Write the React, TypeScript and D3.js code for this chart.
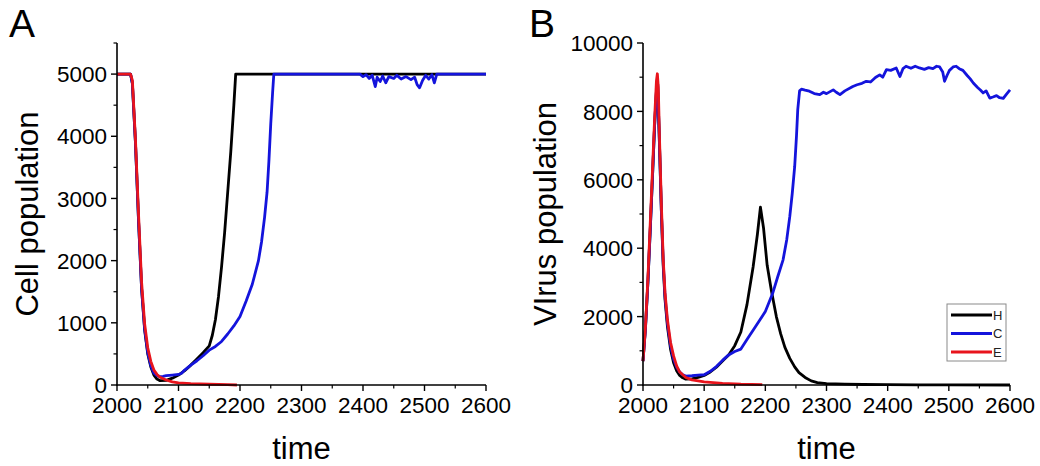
import React from "react";
import * as d3 from "d3";

// ---------- data ----------
type P = [number, number];

// Panel A: Cell population
const cellH: P[] = [
  [2000, 5000], [2022, 5000], [2025, 4850], [2030, 3900], [2035, 2650], [2040, 1550], [2045, 880],
  [2050, 500], [2055, 290], [2060, 160], [2065, 95], [2070, 70], [2080, 75], [2090, 110],
  [2100, 160], [2110, 230], [2120, 320], [2130, 420], [2140, 520], [2150, 630], [2155, 800],
  [2160, 1050], [2165, 1420], [2170, 1900], [2175, 2450], [2180, 3100], [2185, 3750],
  [2190, 4500], [2193, 5000], [2600, 5000],
];
const cellC: P[] = [
  [2000, 5000], [2022, 5000], [2025, 4850], [2030, 3900], [2035, 2650], [2040, 1550], [2045, 900],
  [2050, 520], [2055, 310], [2060, 190], [2065, 150], [2070, 135], [2075, 140], [2080, 150],
  [2090, 160], [2100, 170], [2105, 190], [2110, 240], [2120, 320], [2130, 390], [2140, 470],
  [2150, 560], [2160, 620], [2170, 700], [2180, 820], [2190, 950], [2200, 1100], [2210, 1350],
  [2220, 1620], [2230, 2000], [2235, 2300], [2240, 2700], [2244, 3100], [2247, 3600],
  [2250, 4200], [2253, 4700], [2255, 5000], [2395, 5000], [2400, 4960], [2405, 4990],
  [2410, 4930], [2415, 4980], [2420, 4800], [2423, 4950], [2428, 4880], [2432, 4970],
  [2437, 4860], [2442, 4960], [2450, 4930], [2455, 4980], [2462, 4920], [2470, 4960],
  [2478, 4910], [2484, 4950], [2488, 4830], [2492, 4780], [2497, 4900], [2502, 4980],
  [2507, 4920], [2512, 4990], [2516, 4860], [2520, 5000], [2600, 5000],
];
const cellE: P[] = [
  [2000, 5000], [2022, 5000], [2025, 4900], [2030, 3950], [2035, 2750], [2040, 1650],
  [2045, 980], [2050, 600], [2055, 380], [2060, 240], [2065, 170], [2070, 125], [2080, 80],
  [2090, 50], [2100, 35], [2120, 22], [2150, 12], [2180, 5], [2195, 0],
];

// Panel B: Virus population
const virusH: P[] = [
  [2000, 700], [2004, 1650], [2008, 3000], [2012, 4600], [2016, 6300], [2019, 7600],
  [2022, 8600], [2024, 8800], [2027, 7000], [2030, 5100], [2033, 3500], [2036, 2500],
  [2040, 1700], [2045, 1050], [2050, 650], [2055, 420], [2060, 280], [2065, 210], [2070, 170],
  [2080, 180], [2090, 220], [2100, 280], [2110, 380], [2120, 520], [2130, 700], [2140, 880],
  [2150, 1150], [2160, 1550], [2170, 2350], [2180, 3450], [2187, 4400], [2192, 5200],
  [2197, 4600], [2203, 3500], [2210, 2750], [2218, 2000], [2225, 1500], [2232, 1100],
  [2240, 780], [2248, 530], [2255, 360], [2265, 220], [2275, 120], [2285, 70], [2300, 40],
  [2330, 25], [2360, 15], [2400, 10], [2450, 5], [2500, 3], [2600, 0],
];
const virusC: P[] = [
  [2000, 700], [2004, 1650], [2008, 3000], [2012, 4600], [2016, 6300], [2019, 7600],
  [2022, 8600], [2024, 8800], [2027, 7000], [2030, 5100], [2033, 3600], [2036, 2600],
  [2040, 1800], [2045, 1150], [2050, 750], [2055, 520], [2060, 380], [2065, 300], [2070, 260],
  [2080, 270], [2090, 290], [2100, 300], [2110, 400], [2120, 540], [2130, 720], [2140, 880],
  [2150, 980], [2160, 1050], [2170, 1330], [2180, 1600], [2191, 1900], [2200, 2150],
  [2212, 2680], [2220, 3150], [2229, 3660], [2235, 4250], [2240, 4930], [2244, 5600],
  [2248, 6390], [2251, 7300], [2253, 8050], [2256, 8600], [2259, 8650], [2265, 8620],
  [2272, 8590], [2280, 8520], [2289, 8490], [2295, 8560], [2300, 8520], [2311, 8630],
  [2316, 8560], [2322, 8490], [2330, 8600], [2343, 8730], [2350, 8780], [2358, 8820],
  [2365, 8880], [2372, 8860], [2380, 8990], [2387, 9070], [2392, 9000], [2398, 9220],
  [2405, 9200], [2414, 9270], [2420, 9020], [2425, 9250], [2430, 9320], [2438, 9260],
  [2445, 9320], [2452, 9270], [2460, 9230], [2467, 9280], [2474, 9250], [2480, 9320],
  [2485, 9300], [2490, 9150], [2493, 8880], [2497, 9050], [2501, 9200], [2507, 9300],
  [2512, 9320], [2517, 9250], [2523, 9200], [2530, 9050], [2535, 8950], [2540, 8830],
  [2547, 8700], [2552, 8620], [2556, 8540], [2561, 8600], [2567, 8390], [2572, 8420],
  [2578, 8460], [2583, 8400], [2589, 8380], [2594, 8500], [2600, 8630],
];
const virusE: P[] = [
  [2000, 700], [2004, 1700], [2008, 3100], [2012, 4800], [2016, 6500], [2019, 7800],
  [2022, 8900], [2023.5, 9100], [2025, 8700], [2027, 7200], [2030, 5300], [2033, 3700],
  [2036, 2700], [2040, 1900], [2045, 1250], [2050, 850], [2055, 560], [2060, 380],
  [2070, 220], [2080, 150], [2100, 90], [2130, 50], [2160, 25], [2195, 10],
];

const xTicks = [2000, 2100, 2200, 2300, 2400, 2500, 2600];
const xMinor = [2050, 2150, 2250, 2350, 2450, 2550];
const yTicksA = [0, 1000, 2000, 3000, 4000, 5000];
const yMinorA = [500, 1500, 2500, 3500, 4500, 5500];
const yTicksB = [0, 2000, 4000, 6000, 8000, 10000];
const yMinorB = [1000, 3000, 5000, 7000, 9000];
const legendLabels = ["H", "C", "E"];

const COLORS = { H: "#000000", C: "#1414dc", E: "#e8141c" };
const FONT = "Liberation Sans, Arial, sans-serif";

type PanelProps = {
  left: number; right: number; top: number; bottom: number;
  yMax: number; yTicks: number[]; yMinor: number[];
  series: { data: P[]; color: string }[];
  letter: string; letterX: number; ylabel: string; ylabelX: number;
};

function Panel(p: PanelProps) {
  const x = d3.scaleLinear().domain([2000, 2600]).range([p.left, p.right]);
  const y = d3.scaleLinear().domain([0, p.yMax]).range([p.bottom, p.top]);
  const line = d3.line<P>().x((d) => x(d[0])).y((d) => y(d[1]));
  const cy = (p.top + p.bottom) / 2;
  return (
    <g>
      {p.series.map((s, i) => (
        <path key={i} d={line(s.data) || ""} fill="none" stroke={s.color}
          strokeWidth={2.8} strokeLinejoin="round" />
      ))}
      {/* axes */}
      <line x1={p.left} x2={p.left} y1={p.top} y2={p.bottom + 0.8} stroke="#000" strokeWidth={1.6} />
      <line x1={p.left - 0.8} x2={p.right} y1={p.bottom} y2={p.bottom} stroke="#000" strokeWidth={1.6} />
      {xTicks.map((t) => (
        <g key={"xt" + t}>
          <line x1={x(t)} x2={x(t)} y1={p.bottom} y2={p.bottom + 6} stroke="#000" strokeWidth={1.4} />
          <text x={x(t)} y={413} textAnchor="middle" fontSize={22.5} fontFamily={FONT}>{t}</text>
        </g>
      ))}
      {xMinor.map((t) => (
        <line key={"xm" + t} x1={x(t)} x2={x(t)} y1={p.bottom} y2={p.bottom + 3.5} stroke="#000" strokeWidth={1.2} />
      ))}
      {p.yTicks.map((t) => (
        <g key={"yt" + t}>
          <line x1={p.left - 6} x2={p.left} y1={y(t)} y2={y(t)} stroke="#000" strokeWidth={1.4} />
          <text x={p.left - 10} y={y(t)} dy="0.36em" textAnchor="end" fontSize={22.5} fontFamily={FONT}>{t}</text>
        </g>
      ))}
      {p.yMinor.map((t) => (
        <line key={"ym" + t} x1={p.left - 3.5} x2={p.left} y1={y(t)} y2={y(t)} stroke="#000" strokeWidth={1.2} />
      ))}
      <text x={(p.left + p.right) / 2} y={459} textAnchor="middle" fontSize={31} fontFamily={FONT}>time</text>
      <text transform={`translate(${p.ylabelX},${cy}) rotate(-90)`} textAnchor="middle" fontSize={31} fontFamily={FONT}>{p.ylabel}</text>
      <text x={p.letterX} y={37} fontSize={39} fontFamily={FONT}>{p.letter}</text>
    </g>
  );
}

export default function App() {
  const colorList = [COLORS.H, COLORS.C, COLORS.E];
  return (
    <svg width={1040} height={466} style={{ position: "absolute", left: 0, top: 0, background: "#fff" }}>
      <rect width={1040} height={466} fill="#fff" />
      <Panel left={117} right={486} top={43} bottom={385} yMax={5500}
        yTicks={yTicksA} yMinor={yMinorA}
        series={[{ data: cellH, color: COLORS.H }, { data: cellC, color: COLORS.C }, { data: cellE, color: COLORS.E }]}
        letter="A" letterX={9} ylabel="Cell population" ylabelX={38} />
      <Panel left={643} right={1010} top={43} bottom={385} yMax={10000}
        yTicks={yTicksB} yMinor={yMinorB}
        series={[{ data: virusH, color: COLORS.H }, { data: virusC, color: COLORS.C }, { data: virusE, color: COLORS.E }]}
        letter="B" letterX={529} ylabel="VIrus population" ylabelX={556} />
      {/* legend */}
      <g>
        <rect x={947} y={304} width={59} height={57} fill="#fff" stroke="#8a8a8a" strokeWidth={1} />
        {legendLabels.map((l, i) => (
          <g key={l}>
            <line x1={951} x2={992} y1={315 + i * 18.5} y2={315 + i * 18.5} stroke={colorList[i]} strokeWidth={2.8} />
            <text x={993} y={315 + i * 18.5} dy="0.36em" fontSize={13} fontFamily={FONT} fill="#222">{l}</text>
          </g>
        ))}
      </g>
    </svg>
  );
}
